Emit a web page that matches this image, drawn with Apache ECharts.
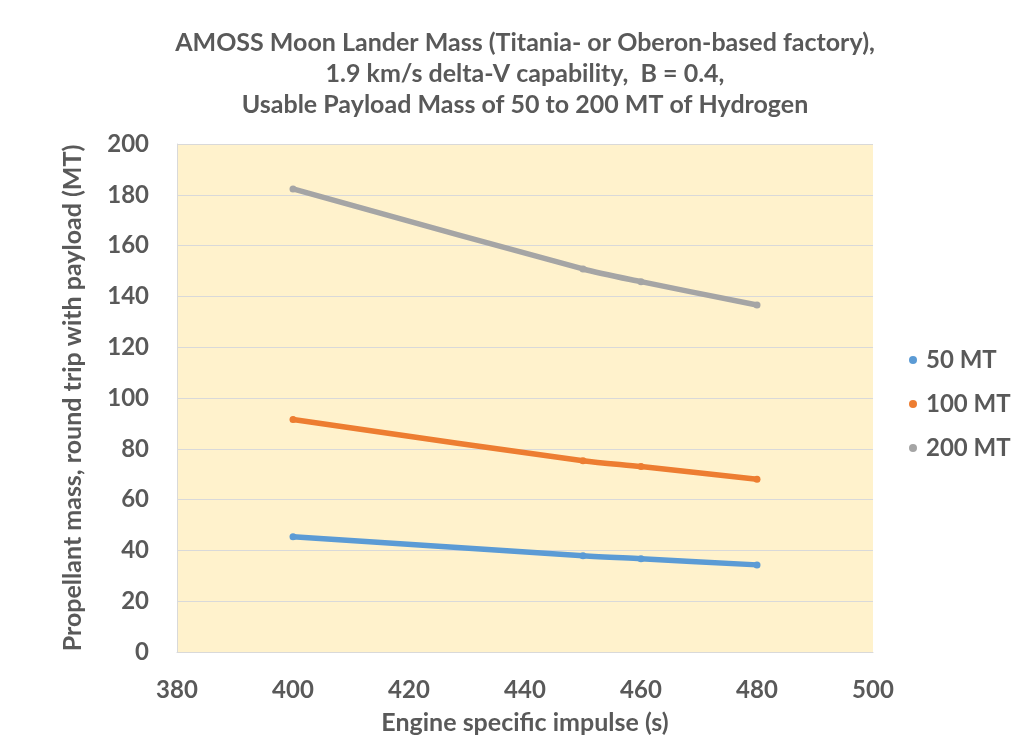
<!DOCTYPE html>
<html><head><meta charset="utf-8">
<script src="https://cdn.jsdelivr.net/npm/echarts@6/dist/echarts.min.js"></script>
<style>html,body{margin:0;padding:0;background:#fff}#c{width:1033px;height:753px}</style>
</head><body><div id="c"></div>
<script>
const impulse = [400, 450, 460, 480];
const mt50 = [45.4, 37.9, 36.7, 34.3];
const mt100 = [91.5, 75.3, 73.0, 68.0];
const mt200 = [182.3, 150.8, 145.8, 136.6];
const seriesNames = ['50 MT', '100 MT', '200 MT'];
const colors = ['#5B9BD5', '#ED7D31', '#A5A5A5'];
const titleLines = ['AMOSS Moon Lander Mass (Titania- or Oberon-based factory),', '1.9 km/s delta-V capability,  B = 0.4,', 'Usable Payload Mass of 50 to 200 MT of Hydrogen'];

const font = 'Lato, "Open Sans", sans-serif';
const txt = '#595959';
const all = [mt50, mt100, mt200];
const chart = echarts.init(document.getElementById('c'));
chart.setOption({
  backgroundColor: '#fff',
  animation: false,
  title: {
    text: titleLines.join('\n'),
    left: 520, top: 22, textAlign: 'center',
    textStyle: { fontFamily: font, fontSize: 25, fontWeight: 'bold', color: txt, lineHeight: 31 }
  },
  legend: {
    orient: 'vertical', left: 904, top: 343, itemGap: 20,
    icon: 'circle', itemWidth: 8, itemHeight: 8,
    data: seriesNames,
    textStyle: { fontFamily: font, fontSize: 24, fontWeight: 'bold', color: txt, padding: [0, 0, 0, 4] }
  },
  grid: { left: 177, right: 160, top: 144, bottom: 101, show: true, backgroundColor: '#FFF2CC', borderWidth: 0 },
  xAxis: {
    type: 'value', min: 380, max: 500, interval: 20,
    name: 'Engine specific impulse (s)', nameLocation: 'middle', nameGap: 58,
    nameTextStyle: { fontFamily: font, fontSize: 25, fontWeight: 'bold', color: txt },
    axisLine: { show: true, lineStyle: { color: '#D9D9D9', width: 1 } },
    axisTick: { show: false },
    splitLine: { show: false },
    axisLabel: { fontFamily: font, fontSize: 24, fontWeight: 'bold', color: txt, margin: 26 }
  },
  yAxis: {
    type: 'value', min: 0, max: 200, interval: 20,
    name: 'Propellant mass, round trip with payload (MT)', nameLocation: 'middle', nameGap: 92,
    nameTextStyle: { fontFamily: font, fontSize: 25, fontWeight: 'bold', color: txt },
    axisLine: { show: true, lineStyle: { color: '#D9D9D9', width: 1 } },
    axisTick: { show: false },
    splitLine: { show: true, lineStyle: { color: '#D9D9D9', width: 1 } },
    axisLabel: { fontFamily: font, fontSize: 24, fontWeight: 'bold', color: txt, margin: 28 }
  },
  series: seriesNames.map((n, i) => ({
    name: n, type: 'line', smooth: 0.3,
    data: impulse.map((x, j) => [x, all[i][j]]),
    symbol: 'circle', symbolSize: 7, showSymbol: true,
    itemStyle: { color: colors[i] },
    lineStyle: { color: colors[i], width: 5.5, cap: 'round' }
  }))
});
</script></body></html>
